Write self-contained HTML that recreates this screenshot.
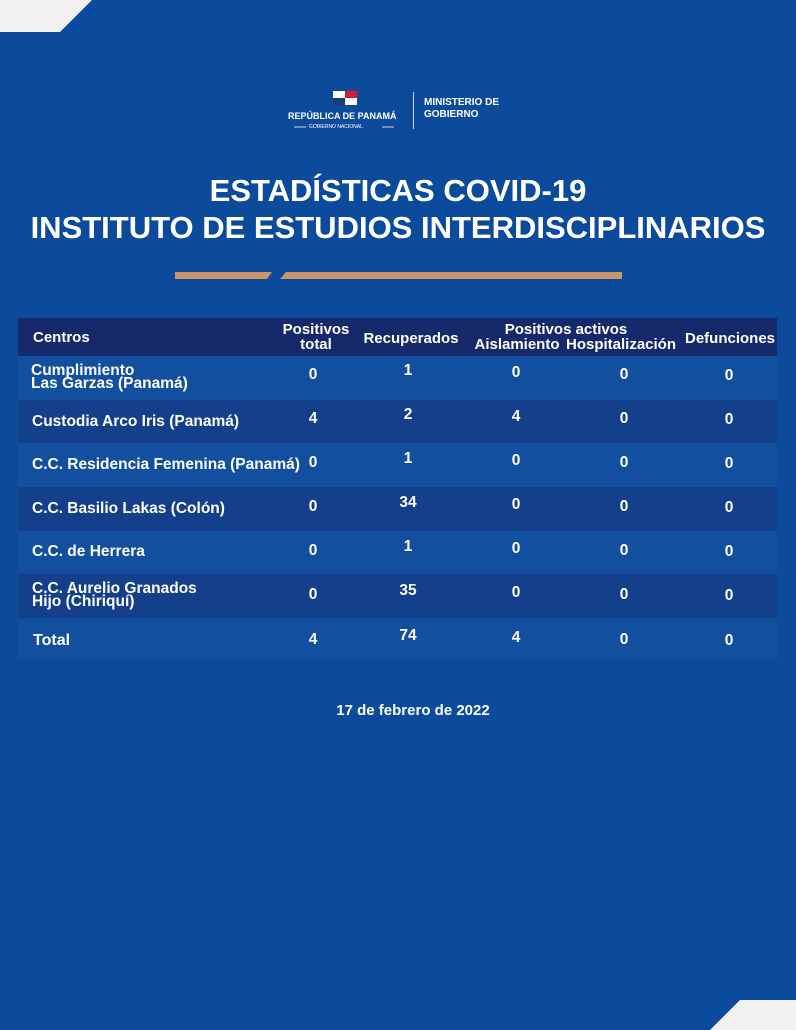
<!DOCTYPE html>
<html><head><meta charset="utf-8"><style>
body{margin:0;width:796px;height:1030px;background:#0c4b9b;position:relative;overflow:hidden;font-family:"Liberation Sans",sans-serif;color:#fff;font-weight:bold}
.a{position:absolute}
.row{position:absolute;left:18px;width:759px}
.t{position:absolute;font-size:15.5px;line-height:13px;white-space:nowrap}
.n{position:absolute;font-size:15.5px;transform:translateX(-50%)}
.h{position:absolute;font-size:15px;line-height:15px;text-align:center;white-space:nowrap;transform:translateX(-50%)}
</style></head><body>
<svg class="a" style="left:0;top:0" width="796" height="1030">
<polygon points="0,0 92,0 60,32 0,32" fill="#f1f1f1"/>
<polygon points="740,1000 796,1000 796,1030 710,1030" fill="#f1f1f1"/>
<polygon points="175,272 272,272 267,279 175,279" fill="#c9956a"/>
<polygon points="286,272 622,272 622,279 280,279" fill="#c9956a"/>
<rect x="333" y="91" width="12" height="7" fill="#fff"/><rect x="345" y="91" width="12" height="7" fill="#d21f2b"/>
<rect x="333" y="98" width="12" height="7" fill="#1c3a7a"/><rect x="345" y="98" width="12" height="7" fill="#fff"/>
<rect x="413" y="92" width="1" height="37" fill="#cfd8ea"/>
<line x1="294" y1="127" x2="306" y2="127" stroke="#cfd8ea"/><line x1="382" y1="127" x2="394" y2="127" stroke="#cfd8ea"/>
</svg>
<div class="a" style="left:288px;top:111px;font-size:9px">REPÚBLICA DE PANAMÁ</div>
<div class="a" style="left:309px;top:124px;font-size:5px;font-weight:normal">GOBIERNO NACIONAL</div>
<div class="a" style="left:424px;top:97px;font-size:10px;line-height:12px">MINISTERIO DE<br>GOBIERNO</div>
<div class="a" style="left:0;width:796px;top:172px;text-align:center;font-size:31px;line-height:37px">ESTADÍSTICAS COVID-19<br>INSTITUTO DE ESTUDIOS INTERDISCIPLINARIOS</div>

<div class="row" style="top:318px;height:38px;background:#15296b"></div>
<div class="t" style="left:33px;top:331px;font-size:15px">Centros</div>
<div class="h" style="left:316px;top:322px">Positivos<br>total</div>
<div class="h" style="left:411px;top:331px">Recuperados</div>
<div class="h" style="left:566px;top:322px">Positivos activos</div>
<div class="h" style="left:517px;top:337px">Aislamiento</div>
<div class="h" style="left:621px;top:337px">Hospitalización</div>
<div class="h" style="left:730px;top:331px">Defunciones</div>

<div class="row" style="top:356px;height:44px;background:#134f9f"></div>
<div class="row" style="top:400px;height:43px;background:#143f8b"></div>
<div class="row" style="top:443px;height:44px;background:#134f9f"></div>
<div class="row" style="top:487px;height:44px;background:#143f8b"></div>
<div class="row" style="top:531px;height:43px;background:#134f9f"></div>
<div class="row" style="top:574px;height:44px;background:#143f8b"></div>
<div class="row" style="top:618px;height:42px;background:#134f9f"></div>

<div class="t" style="left:31px;top:364px">Cumplimiento<br>Las Garzas (Panamá)</div>
<div class="t" style="left:32px;top:415px">Custodia Arco Iris (Panamá)</div>
<div class="t" style="left:32px;top:458px">C.C. Residencia Femenina (Panamá)</div>
<div class="t" style="left:32px;top:502px">C.C. Basilio Lakas (Colón)</div>
<div class="t" style="left:32px;top:545px">C.C. de Herrera</div>
<div class="t" style="left:32px;top:582px">C.C. Aurelio Granados<br>Hijo (Chiriquí)</div>
<div class="t" style="left:33px;top:634px;font-size:16px">Total</div>

<div class="n" style="left:313px;top:366px">0</div><div class="n" style="left:408px;top:362px">1</div><div class="n" style="left:516px;top:364px">0</div><div class="n" style="left:624px;top:366px">0</div><div class="n" style="left:729px;top:367px">0</div>
<div class="n" style="left:313px;top:410px">4</div><div class="n" style="left:408px;top:406px">2</div><div class="n" style="left:516px;top:408px">4</div><div class="n" style="left:624px;top:410px">0</div><div class="n" style="left:729px;top:411px">0</div>
<div class="n" style="left:313px;top:454px">0</div><div class="n" style="left:408px;top:450px">1</div><div class="n" style="left:516px;top:452px">0</div><div class="n" style="left:624px;top:454px">0</div><div class="n" style="left:729px;top:455px">0</div>
<div class="n" style="left:313px;top:498px">0</div><div class="n" style="left:408px;top:494px">34</div><div class="n" style="left:516px;top:496px">0</div><div class="n" style="left:624px;top:498px">0</div><div class="n" style="left:729px;top:499px">0</div>
<div class="n" style="left:313px;top:542px">0</div><div class="n" style="left:408px;top:538px">1</div><div class="n" style="left:516px;top:540px">0</div><div class="n" style="left:624px;top:542px">0</div><div class="n" style="left:729px;top:543px">0</div>
<div class="n" style="left:313px;top:586px">0</div><div class="n" style="left:408px;top:582px">35</div><div class="n" style="left:516px;top:584px">0</div><div class="n" style="left:624px;top:586px">0</div><div class="n" style="left:729px;top:587px">0</div>
<div class="n" style="left:313px;top:631px">4</div><div class="n" style="left:408px;top:627px">74</div><div class="n" style="left:516px;top:629px">4</div><div class="n" style="left:624px;top:631px">0</div><div class="n" style="left:729px;top:632px">0</div>

<div class="a" style="left:0;width:826px;top:702px;text-align:center;font-size:15px">17 de febrero de 2022</div>
</body></html>
